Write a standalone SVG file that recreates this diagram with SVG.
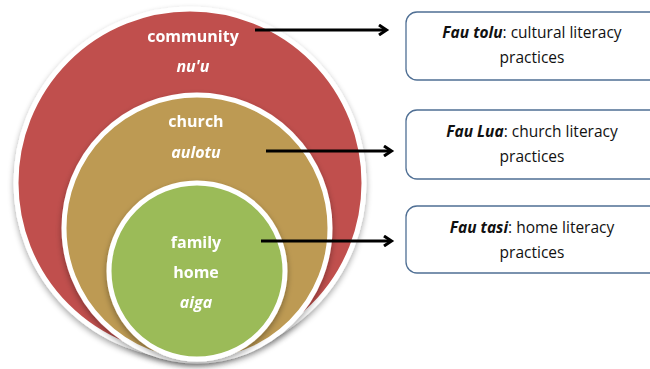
<svg xmlns="http://www.w3.org/2000/svg" width="650" height="369" viewBox="0 0 650 369">
<style>
.c{stroke:#fff;stroke-width:5}
.lbl{font-family:"Open Sans","Liberation Sans",sans-serif;font-weight:bold;font-size:16px;fill:#fff;text-anchor:middle}
.it{font-style:italic}
.box{fill:#fff;stroke:#4f6f94;stroke-width:1.3}
.bt{font-family:"Open Sans","Liberation Sans",sans-serif;font-size:15.5px;fill:#111;text-anchor:middle}
.conn{stroke:#000;stroke-width:3;fill:none;marker-end:url(#ah)}
</style>
<defs>
<marker id="ah" markerWidth="12" markerHeight="12" refX="8" refY="6" orient="auto" markerUnits="userSpaceOnUse">
<polyline points="1,1 8.5,6 1,11" fill="none" stroke="#000" stroke-width="3"/>
</marker>
<filter id="sh" x="-10%" y="-10%" width="120%" height="125%">
<feGaussianBlur in="SourceAlpha" stdDeviation="3"/>
<feOffset dy="3"/>
<feComponentTransfer><feFuncA type="linear" slope="0.35"/></feComponentTransfer>
<feMerge><feMergeNode/><feMergeNode in="SourceGraphic"/></feMerge>
</filter>
</defs>
<rect width="650" height="369" fill="#fff"/>
<g id="community" filter="url(#sh)">
<circle class="c" cx="190" cy="183" r="174" fill="#C0504D"/>
<text class="lbl" x="193" y="42">community</text>
<text class="lbl it" x="193" y="72">nu'u</text>
</g>
<g id="church" filter="url(#sh)">
<circle class="c" cx="197" cy="228" r="133" fill="#BD9A52"/>
<text class="lbl" x="196" y="127">church</text>
<text class="lbl it" x="196" y="158">aulotu</text>
</g>
<g id="family" filter="url(#sh)">
<circle class="c" cx="197" cy="271" r="88" fill="#9BBB59"/>
<text class="lbl" x="196" y="248">family</text>
<text class="lbl" x="196" y="278">home</text>
<text class="lbl it" x="196" y="308">aiga</text>
</g>
<g id="box-tolu">
<rect class="box" x="406" y="12" width="260" height="68" rx="11"/>
<text class="bt" x="532" y="38"><tspan font-weight="bold" font-style="italic">Fau tolu</tspan>: cultural literacy</text>
<text class="bt" x="532" y="63">practices</text>
</g>
<g id="box-lua">
<rect class="box" x="406" y="110" width="260" height="69" rx="11"/>
<text class="bt" x="532" y="137"><tspan font-weight="bold" font-style="italic">Fau Lua</tspan>: church literacy</text>
<text class="bt" x="532" y="162">practices</text>
</g>
<g id="box-tasi">
<rect class="box" x="406" y="206" width="260" height="67" rx="11"/>
<text class="bt" x="532" y="233"><tspan font-weight="bold" font-style="italic">Fau tasi</tspan>: home literacy</text>
<text class="bt" x="532" y="258">practices</text>
</g>
<g id="connectors">
<line class="conn" x1="255" y1="30" x2="386" y2="30"/>
<line class="conn" x1="266" y1="151" x2="391" y2="151"/>
<line class="conn" x1="261" y1="241" x2="391" y2="241"/>
</g>
</svg>
